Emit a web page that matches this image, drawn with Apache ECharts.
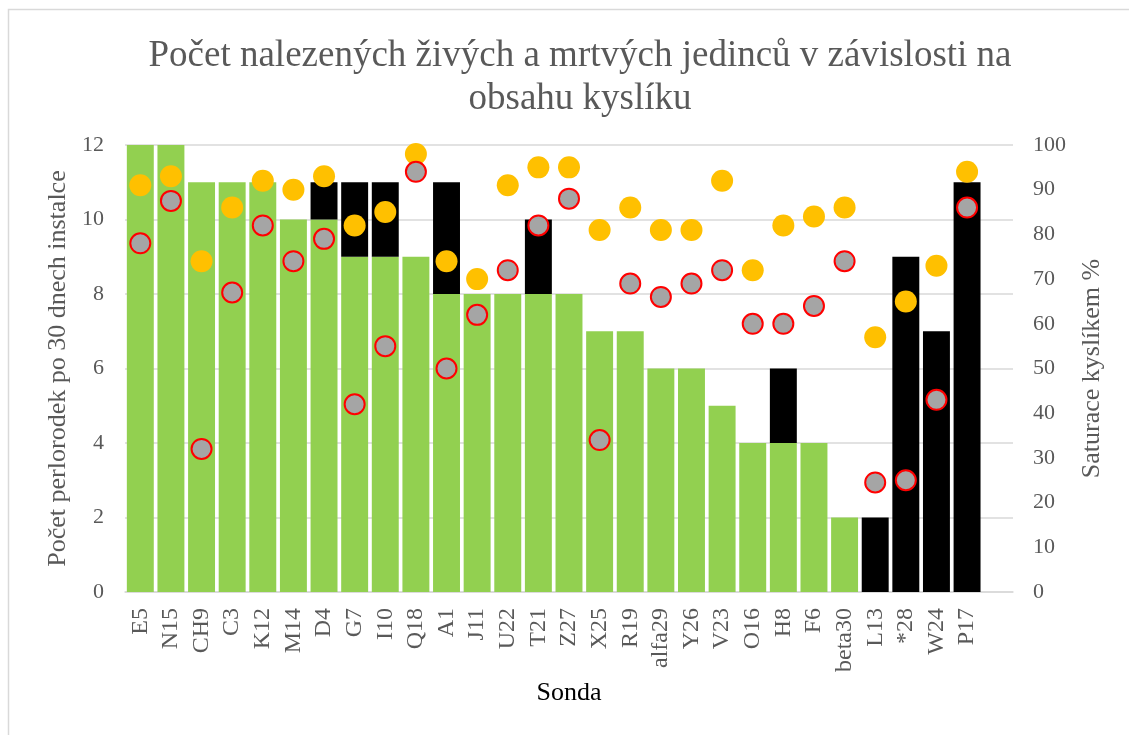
<!DOCTYPE html>
<html>
<head>
<meta charset="utf-8">
<script src="https://cdn.jsdelivr.net/npm/echarts@6/dist/echarts.min.js"></script>
<style>
  html, body { margin: 0; padding: 0; background: #fff; }
  #chart { width: 1129px; height: 735px; }
</style>
</head>
<body>
<div id="chart"></div>
<script>
// poslední kategorie je v originále prázdná
const sondy = ['E5', 'N15', 'CH9', 'C3', 'K12', 'M14', 'D4', 'G7', 'I10', 'Q18', 'A1', 'J11', 'U22', 'T21', 'Z27',
  'X25', 'R19', 'alfa29', 'Y26', 'V23', 'O16', 'H8', 'F6', 'beta30', 'L13', '*28', 'W24', 'P17', ''];
// počty živých a mrtvých jedinců
const zive = [12, 12, 11, 11, 11, 10, 10, 9, 9, 9, 8, 8, 8, 8, 8, 7, 7, 6, 6, 5, 4, 4, 4, 2, 0, 0, 0, 0];
const mrtve = [0, 0, 0, 0, 0, 0, 1, 2, 2, 0, 3, 0, 0, 2, 0, 0, 0, 0, 0, 0, 0, 2, 0, 0, 2, 9, 7, 11];
// saturace kyslíkem (%)
const saturaceA = [91, 93, 74, 86, 92, 90, 93, 82, 85, 98, 74, 70, 91, 95, 95, 81, 86, 81, 81, 92, 72, 82, 84, 86, 57, 65, 73, 94];
const saturaceB = [78, 87.5, 32, 67, 82, 74, 79, 42, 55, 94, 50, 62, 72, 82, 88, 34, 69, 66, 69, 72, 60, 60, 64, 74, 24.5, 25, 43, 86];

const chart = echarts.init(document.getElementById('chart'));
const serif = '"Liberation Serif", "DejaVu Serif", serif';
const grey = '#595959';

const option = {
  animation: false,
  backgroundColor: '#fff',
  graphic: [
    {
      type: 'rect',
      shape: { x: 8.5, y: 9.5, width: 1200, height: 800 },
      style: { fill: 'none', stroke: '#d9d9d9', lineWidth: 1.5 },
      silent: true
    }
  ],
  title: {
    text: 'Počet nalezených živých a mrtvých jedinců v závislosti na\nobsahu kyslíku',
    left: 575,
    textAlign: 'center',
    top: 30,
    textStyle: { fontFamily: serif, fontSize: 37, fontWeight: 'normal', color: grey, lineHeight: 43 }
  },
  grid: { left: 125, right: 116, top: 145, bottom: 143 },
  xAxis: {
    type: 'category',
    data: sondy,
    name: 'Sonda',
    nameLocation: 'middle',
    nameGap: 86,
    nameTextStyle: { fontFamily: serif, fontSize: 26, color: '#000' },
    axisLine: { lineStyle: { color: '#d9d9d9', width: 1.5 } },
    axisTick: { show: false },
    axisLabel: { rotate: 90, interval: 0, fontFamily: serif, fontSize: 24, color: grey, margin: 16 }
  },
  yAxis: [
    {
      type: 'value',
      min: 0, max: 12, interval: 2,
      name: 'Počet perlorodek po 30 dnech instalce',
      nameLocation: 'middle',
      nameGap: 51,
      nameTextStyle: { fontFamily: serif, fontSize: 26, color: grey },
      axisLine: { show: false },
      axisTick: { show: false },
      axisLabel: { fontFamily: serif, fontSize: 22, color: grey, margin: 21 },
      splitLine: { lineStyle: { color: '#d9d9d9', width: 1.5 } }
    },
    {
      type: 'value',
      min: 0, max: 100, interval: 10,
      name: 'Saturace kyslíkem %',
      nameLocation: 'middle',
      nameGap: 66,
      nameRotate: 90,
      nameTextStyle: { fontFamily: serif, fontSize: 26, color: grey },
      axisLine: { show: false },
      axisTick: { show: false },
      axisLabel: { fontFamily: serif, fontSize: 22, color: grey, margin: 20 },
      splitLine: { show: false }
    }
  ],
  series: [
    {
      name: 'živé',
      type: 'bar',
      stack: 'pocet',
      barCategoryGap: '12%',
      data: zive,
      itemStyle: { color: '#92D050' }
    },
    {
      name: 'mrtvé',
      type: 'bar',
      stack: 'pocet',
      data: mrtve,
      itemStyle: { color: '#000' }
    },
    {
      name: 'saturace 1',
      type: 'scatter',
      yAxisIndex: 1,
      data: saturaceA,
      symbolSize: 22,
      itemStyle: { color: '#FFC000', opacity: 1 }
    },
    {
      name: 'saturace 2',
      type: 'scatter',
      yAxisIndex: 1,
      data: saturaceB,
      symbolSize: 20,
      itemStyle: { color: '#A5A5A5', borderColor: '#FF0000', borderWidth: 2, opacity: 1 }
    }
  ]
};

chart.setOption(option);
</script>
</body>
</html>
